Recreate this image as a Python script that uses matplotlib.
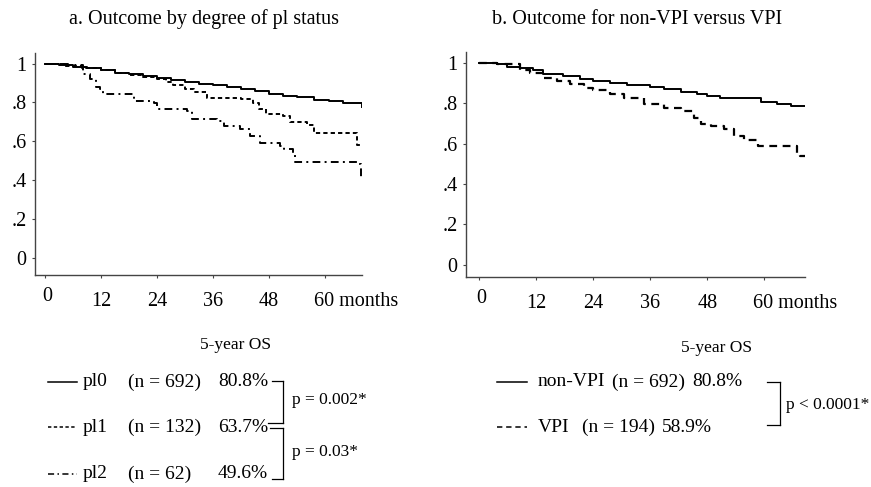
import matplotlib
matplotlib.use("Agg")
import matplotlib.pyplot as plt
from matplotlib.lines import Line2D
from matplotlib.transforms import ScaledTranslation

plt.rcParams['font.family'] = ['Liberation Serif', 'DejaVu Serif']

# ---------------- data ----------------
# Panel a: by degree of pl status
pl0_t = [0, 3, 6, 9, 12, 15, 18, 21, 24, 27, 30, 33, 36, 39, 42, 45, 48, 51, 54, 57.8, 61, 64, 68]
pl0_s = [1.0, 0.99, 0.98, 0.975, 0.965, 0.95, 0.945, 0.935, 0.925, 0.915, 0.905, 0.895, 0.888,
         0.878, 0.868, 0.858, 0.845, 0.835, 0.828, 0.812, 0.805, 0.795, 0.778]

pl1_t = [0, 4, 8, 12, 15, 18, 21, 24, 26, 27.5, 30, 32, 34.7, 42, 44.7, 46, 47.5, 51, 52.6, 56.2, 57.6, 67, 68]
pl1_s = [1.0, 0.985, 0.975, 0.965, 0.95, 0.94, 0.93, 0.918, 0.905, 0.889, 0.87, 0.853, 0.824,
         0.82, 0.798, 0.764, 0.74, 0.73, 0.70, 0.682, 0.644, 0.581, 0.581]

pl2_t = [0, 5, 8.2, 9.7, 11, 11.8, 12.5, 19, 23.3, 24, 30.4, 31.5, 36.9, 38.3, 41.9, 44, 46.2,
         50.5, 51.2, 53.3, 53.7, 67.3, 67.8, 68]
pl2_s = [1.0, 0.99, 0.944, 0.918, 0.88, 0.867, 0.844, 0.807, 0.798, 0.764, 0.755, 0.713, 0.704,
         0.679, 0.662, 0.627, 0.59, 0.576, 0.559, 0.533, 0.494, 0.482, 0.414, 0.414]

# Panel b: non-VPI versus VPI
nvpi_t = [0, 3.7, 5.8, 8.6, 11.4, 13.5, 17.7, 21.3, 24, 27.6, 31.1, 36, 38.9, 42.4, 45.9, 48,
          50.8, 59.3, 62.8, 65.6, 68.8]
nvpi_s = [1.0, 0.992, 0.979, 0.972, 0.962, 0.942, 0.934, 0.921, 0.909, 0.898, 0.889, 0.881,
          0.868, 0.855, 0.843, 0.835, 0.823, 0.807, 0.798, 0.788, 0.777]

vpi_t = [0, 3.7, 8.6, 10.7, 13.5, 16.3, 19.2, 22, 24, 27.6, 30.4, 34.6, 38.9, 42.4, 45.2, 46.6,
         48.7, 51.5, 53.7, 55.8, 58.6, 67, 67.6, 68.8]
vpi_s = [1.0, 0.992, 0.962, 0.95, 0.926, 0.909, 0.893, 0.876, 0.864, 0.843, 0.823, 0.798, 0.777,
         0.76, 0.727, 0.699, 0.689, 0.673, 0.636, 0.617, 0.59, 0.554, 0.54, 0.54]

x_ticks = [0, 12, 24, 36, 48, 60]
x_labels = ['0', '12', '24', '36', '48', '60 months']
y_ticks = [0, 0.2, 0.4, 0.6, 0.8, 1.0]
y_labels = ['0', '.2', '.4', '.6', '.8', '1']

titles = ['a. Outcome by degree of pl status', 'b. Outcome for non-VPI versus VPI']

legA_names = ['pl0', 'pl1', 'pl2']
legA_n = ['(n = 692)', '(n = 132)', '(n = 62)']
legA_os = ['80.8%', '63.7%', '49.6%']
legA_p = ['p = 0.002*', 'p = 0.03*']

legB_names = ['non-VPI', 'VPI']
legB_n = ['(n = 692)', '(n = 194)']
legB_os = ['80.8%', '58.9%']
legB_p = ['p < 0.0001*']

# ---------------- styles ----------------
W, H = 871, 487
DPI = 100
FS_TITLE = 14.5
FS_TICK = 14.5
FS_LEG = 14
FS_OS = 12.5
FS_P = 12.5
solid = dict(color='black', lw=1.4, linestyle='-')
dash_a = dict(color='black', lw=1.4, linestyle=(0, (2.2, 1.6)))
dashdot = dict(color='black', lw=1.4, linestyle=(0, (4, 2.2, 1, 2.2)))
dash_b = dict(color='black', lw=1.6, linestyle=(0, (3.5, 2.5)))

fig = plt.figure(figsize=(W / DPI, H / DPI), dpi=DPI)


def fx(x):
    return x / W


def fy(y):
    return 1 - y / H


def make_axes(l, r, t, b, xlim, ylim):
    ax = fig.add_axes([fx(l), fy(b), fx(r) - fx(l), fy(t) - fy(b)])
    ax.set_xlim(*xlim)
    ax.set_ylim(*ylim)
    for s in ['top', 'right']:
        ax.spines[s].set_visible(False)
    for s in ['left', 'bottom']:
        ax.spines[s].set_color('#444444')
        ax.spines[s].set_linewidth(1.0)
    ax.set_xticks(x_ticks)
    ax.set_xticklabels(x_labels, fontsize=FS_TICK)
    ax.set_yticks(y_ticks)
    ax.set_yticklabels(y_labels, fontsize=FS_TICK)
    ax.tick_params(axis='x', direction='out', length=2.2, width=0.8, color='#444444', pad=10)
    ax.tick_params(axis='y', direction='out', length=2.2, width=0.8, color='#444444', pad=4)
    labs = ax.get_xticklabels()
    last = labs[-1]
    last.set_horizontalalignment('left')
    last.set_transform(last.get_transform() + ScaledTranslation(-11 / DPI, 0, fig.dpi_scale_trans))
    first = labs[0]
    first.set_transform(first.get_transform() + ScaledTranslation(2 / DPI, 5 / DPI, fig.dpi_scale_trans))
    return ax


axA = make_axes(35, 362, 53, 275, (-2.15, 68.0), (-0.086, 1.054))
axA.plot(pl0_t, pl0_s, drawstyle='steps-post', **solid)
axA.plot(pl1_t, pl1_s, drawstyle='steps-post', **dash_a)
axA.plot(pl2_t, pl2_s, drawstyle='steps-post', **dashdot)

axB = make_axes(466, 805, 52, 277, (-2.8, 68.6), (-0.06, 1.053))
axB.plot(nvpi_t, nvpi_s, drawstyle='steps-post', **solid)
axB.plot(vpi_t, vpi_s, drawstyle='steps-post', **dash_b)

fig.text(fx(204), fy(19), titles[0], ha='center', va='center', fontsize=FS_TITLE)
fig.text(fx(637), fy(19), titles[1], ha='center', va='center', fontsize=FS_TITLE)


def hline(x0, x1, y, **kw):
    fig.add_artist(Line2D([fx(x0), fx(x1)], [fy(y), fy(y)], transform=fig.transFigure, **kw))


def vline(x, y0, y1, **kw):
    fig.add_artist(Line2D([fx(x), fx(x)], [fy(y0), fy(y1)], transform=fig.transFigure, **kw))


def txt(x, y, s, ha='left', fs=FS_LEG):
    fig.text(fx(x), fy(y), s, ha=ha, va='center', fontsize=fs)


# ---- legend A ----
txt(236, 345, '5-year OS', ha='center', fs=FS_OS)
rowsA = [382, 427, 474]
stylesA = [solid, dash_a, dashdot]
for i in range(3):
    st = dict(stylesA[i])
    st['lw'] = 1.1
    hline(48, 77, rowsA[i], **st)
    txt(83, rowsA[i], legA_names[i])
    txt(128, rowsA[i], legA_n[i])
    txt(268, rowsA[i], legA_os[i], ha='right')
br = dict(color='black', lw=0.9)
hline(272, 283, 381, **br)
vline(283, 381, 423, **br)
hline(268, 283, 423, **br)
hline(270, 283, 428, **br)
vline(283, 428, 479, **br)
hline(272, 283, 479, **br)
txt(292, 400, legA_p[0], fs=FS_P)
txt(292, 452, legA_p[1], fs=FS_P)

# ---- legend B ----
txt(717, 348, '5-year OS', ha='center', fs=FS_OS)
rowsB = [382, 427]
stylesB = [solid, dash_b]
nposB = [612, 582]
osposB = [692, 662]
for i in range(2):
    st = dict(stylesB[i])
    st['lw'] = 1.1
    hline(497, 527, rowsB[i], **st)
    txt(538, rowsB[i], legB_names[i])
    txt(nposB[i], rowsB[i], legB_n[i])
    txt(osposB[i], rowsB[i], legB_os[i])
hline(767, 780, 382, **br)
vline(780, 382, 425, **br)
hline(767, 780, 425, **br)
txt(786, 405, legB_p[0], fs=FS_P)

fig.savefig('out.png', dpi=DPI)
